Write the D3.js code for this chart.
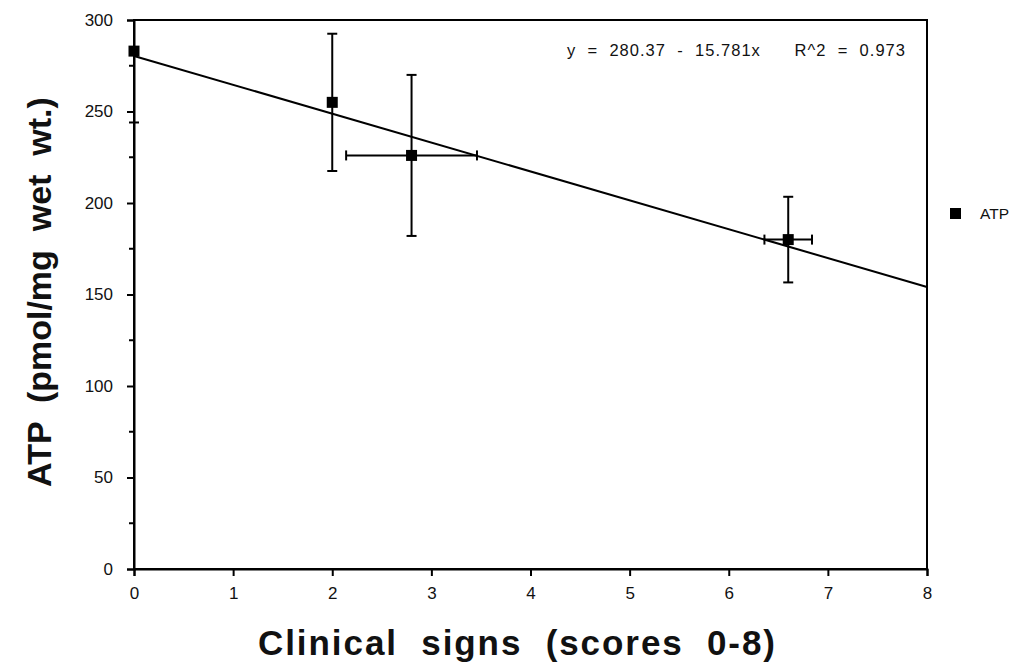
<!DOCTYPE html>
<html>
<head>
<meta charset="utf-8">
<script src="https://cdn.jsdelivr.net/npm/d3@7"></script>
<style>
  body { margin: 0; background: #fff; }
  text { font-family: "Liberation Sans", Arial, sans-serif; fill: #111; }
  .tick text { font-size: 17px; }
</style>
</head>
<body>
<svg id="chart" width="1026" height="667"></svg>
<script>
// data
const scores = [0, 2, 2.8, 6.6];
const atp = [283, 255, 226, 180];
const atpErr = [39, 37.5, 44, 23.4];
const scoreErr = [0, 0, 0.66, 0.24];
const fitIntercept = 280.37;
const fitSlope = -15.781;
const xTicks = [0, 1, 2, 3, 4, 5, 6, 7, 8];
const yTicks = [0, 50, 100, 150, 200, 250, 300];
const yMinorTicks = [25, 75, 125, 175, 225, 275];

const svg = d3.select('#chart');
const margin = { top: 20, right: 99, bottom: 98, left: 134 };
const width = 1026 - margin.left - margin.right;
const height = 667 - margin.top - margin.bottom;

const x = d3.scaleLinear().domain([0, 8]).range([0, width]);
const y = d3.scaleLinear().domain([0, 300]).range([height, 0]);

const g = svg.append('g').attr('transform', `translate(${margin.left},${margin.top})`);

g.append('defs').append('clipPath').attr('id', 'plot-clip')
  .append('rect').attr('x', -8).attr('y', 0).attr('width', width + 8).attr('height', height);

// frame
g.append('rect')
  .attr('width', width).attr('height', height)
  .attr('fill', 'none').attr('stroke', '#000').attr('stroke-width', 2);

// x axis
const xAxis = g.append('g')
  .attr('transform', `translate(0,${height})`)
  .call(d3.axisBottom(x).tickValues(xTicks).tickSize(7).tickPadding(11).tickFormat(d3.format('d')));
xAxis.select('.domain').attr('stroke-width', 2);
xAxis.selectAll('.tick line').attr('stroke-width', 2);
xAxis.selectAll('text').attr('fill', '#111');

// y axis
const yAxis = g.append('g')
  .call(d3.axisLeft(y).tickValues(yTicks).tickSize(7).tickPadding(14));
yAxis.select('.domain').attr('stroke-width', 2);
yAxis.selectAll('.tick line').attr('stroke-width', 2);
yAxis.selectAll('text').attr('fill', '#111');

g.append('g').selectAll('line')
  .data(yMinorTicks)
  .enter()
  .append('line')
  .attr('x1', -5).attr('x2', 0)
  .attr('y1', d => y(d)).attr('y2', d => y(d))
  .attr('stroke', '#000').attr('stroke-width', 2);

// regression line
g.append('line')
  .attr('x1', x(0)).attr('y1', y(fitIntercept))
  .attr('x2', x(8)).attr('y2', y(fitIntercept + fitSlope * 8))
  .attr('stroke', '#000').attr('stroke-width', 2);

// error bars
const pts = scores.map((s, i) => ({ x: s, y: atp[i], ey: atpErr[i], ex: scoreErr[i] }));
const eb = g.append('g').attr('clip-path', 'url(#plot-clip)')
  .attr('stroke', '#000').attr('stroke-width', 2);
const cap = 5;

pts.forEach(p => {
  const cx = x(p.x);
  const cy = y(p.y);
  const yTop = y(p.y + p.ey);
  const yBot = y(p.y - p.ey);
  eb.append('line').attr('x1', cx).attr('x2', cx).attr('y1', yTop).attr('y2', yBot);
  eb.append('line').attr('x1', cx - cap).attr('x2', cx + cap).attr('y1', yTop).attr('y2', yTop);
  eb.append('line').attr('x1', cx - cap).attr('x2', cx + cap).attr('y1', yBot).attr('y2', yBot);
  if (p.ex > 0) {
    const xl = x(p.x - p.ex);
    const xr = x(p.x + p.ex);
    eb.append('line').attr('x1', xl).attr('x2', xr).attr('y1', cy).attr('y2', cy);
    eb.append('line').attr('x1', xl).attr('x2', xl).attr('y1', cy - cap).attr('y2', cy + cap);
    eb.append('line').attr('x1', xr).attr('x2', xr).attr('y1', cy - cap).attr('y2', cy + cap);
  }
});

// markers
g.selectAll('.pt')
  .data(pts)
  .enter()
  .append('rect')
  .attr('class', 'pt')
  .attr('x', d => x(d.x) - 5.5)
  .attr('y', d => y(d.y) - 5.5)
  .attr('width', 11).attr('height', 11)
  .attr('fill', '#000');

// equation
g.append('text')
  .attr('x', 433).attr('y', 36)
  .attr('font-size', 16.5)
  .attr('textLength', 338)
  .attr('lengthAdjust', 'spacing')
  .style('white-space', 'pre')
  .text('y  =  280.37  -  15.781x      R^2  =  0.973');

// legend
svg.append('rect').attr('x', 950).attr('y', 208).attr('width', 11).attr('height', 11).attr('fill', '#000');
svg.append('text').attr('x', 980).attr('y', 219).attr('font-size', 15.5).text('ATP');

// axis titles
svg.append('text')
  .attr('x', 258).attr('y', 655)
  .attr('font-size', 35).attr('font-weight', 'bold')
  .attr('textLength', 517)
  .attr('lengthAdjust', 'spacing')
  .style('white-space', 'pre')
  .text('Clinical  signs  (scores  0-8)');

svg.append('text')
  .attr('transform', 'translate(51,292) rotate(-90)')
  .attr('text-anchor', 'middle')
  .attr('font-size', 34).attr('font-weight', 'bold')
  .style('white-space', 'pre')
  .text('ATP  (pmol/mg  wet  wt.)');
</script>
</body>
</html>
